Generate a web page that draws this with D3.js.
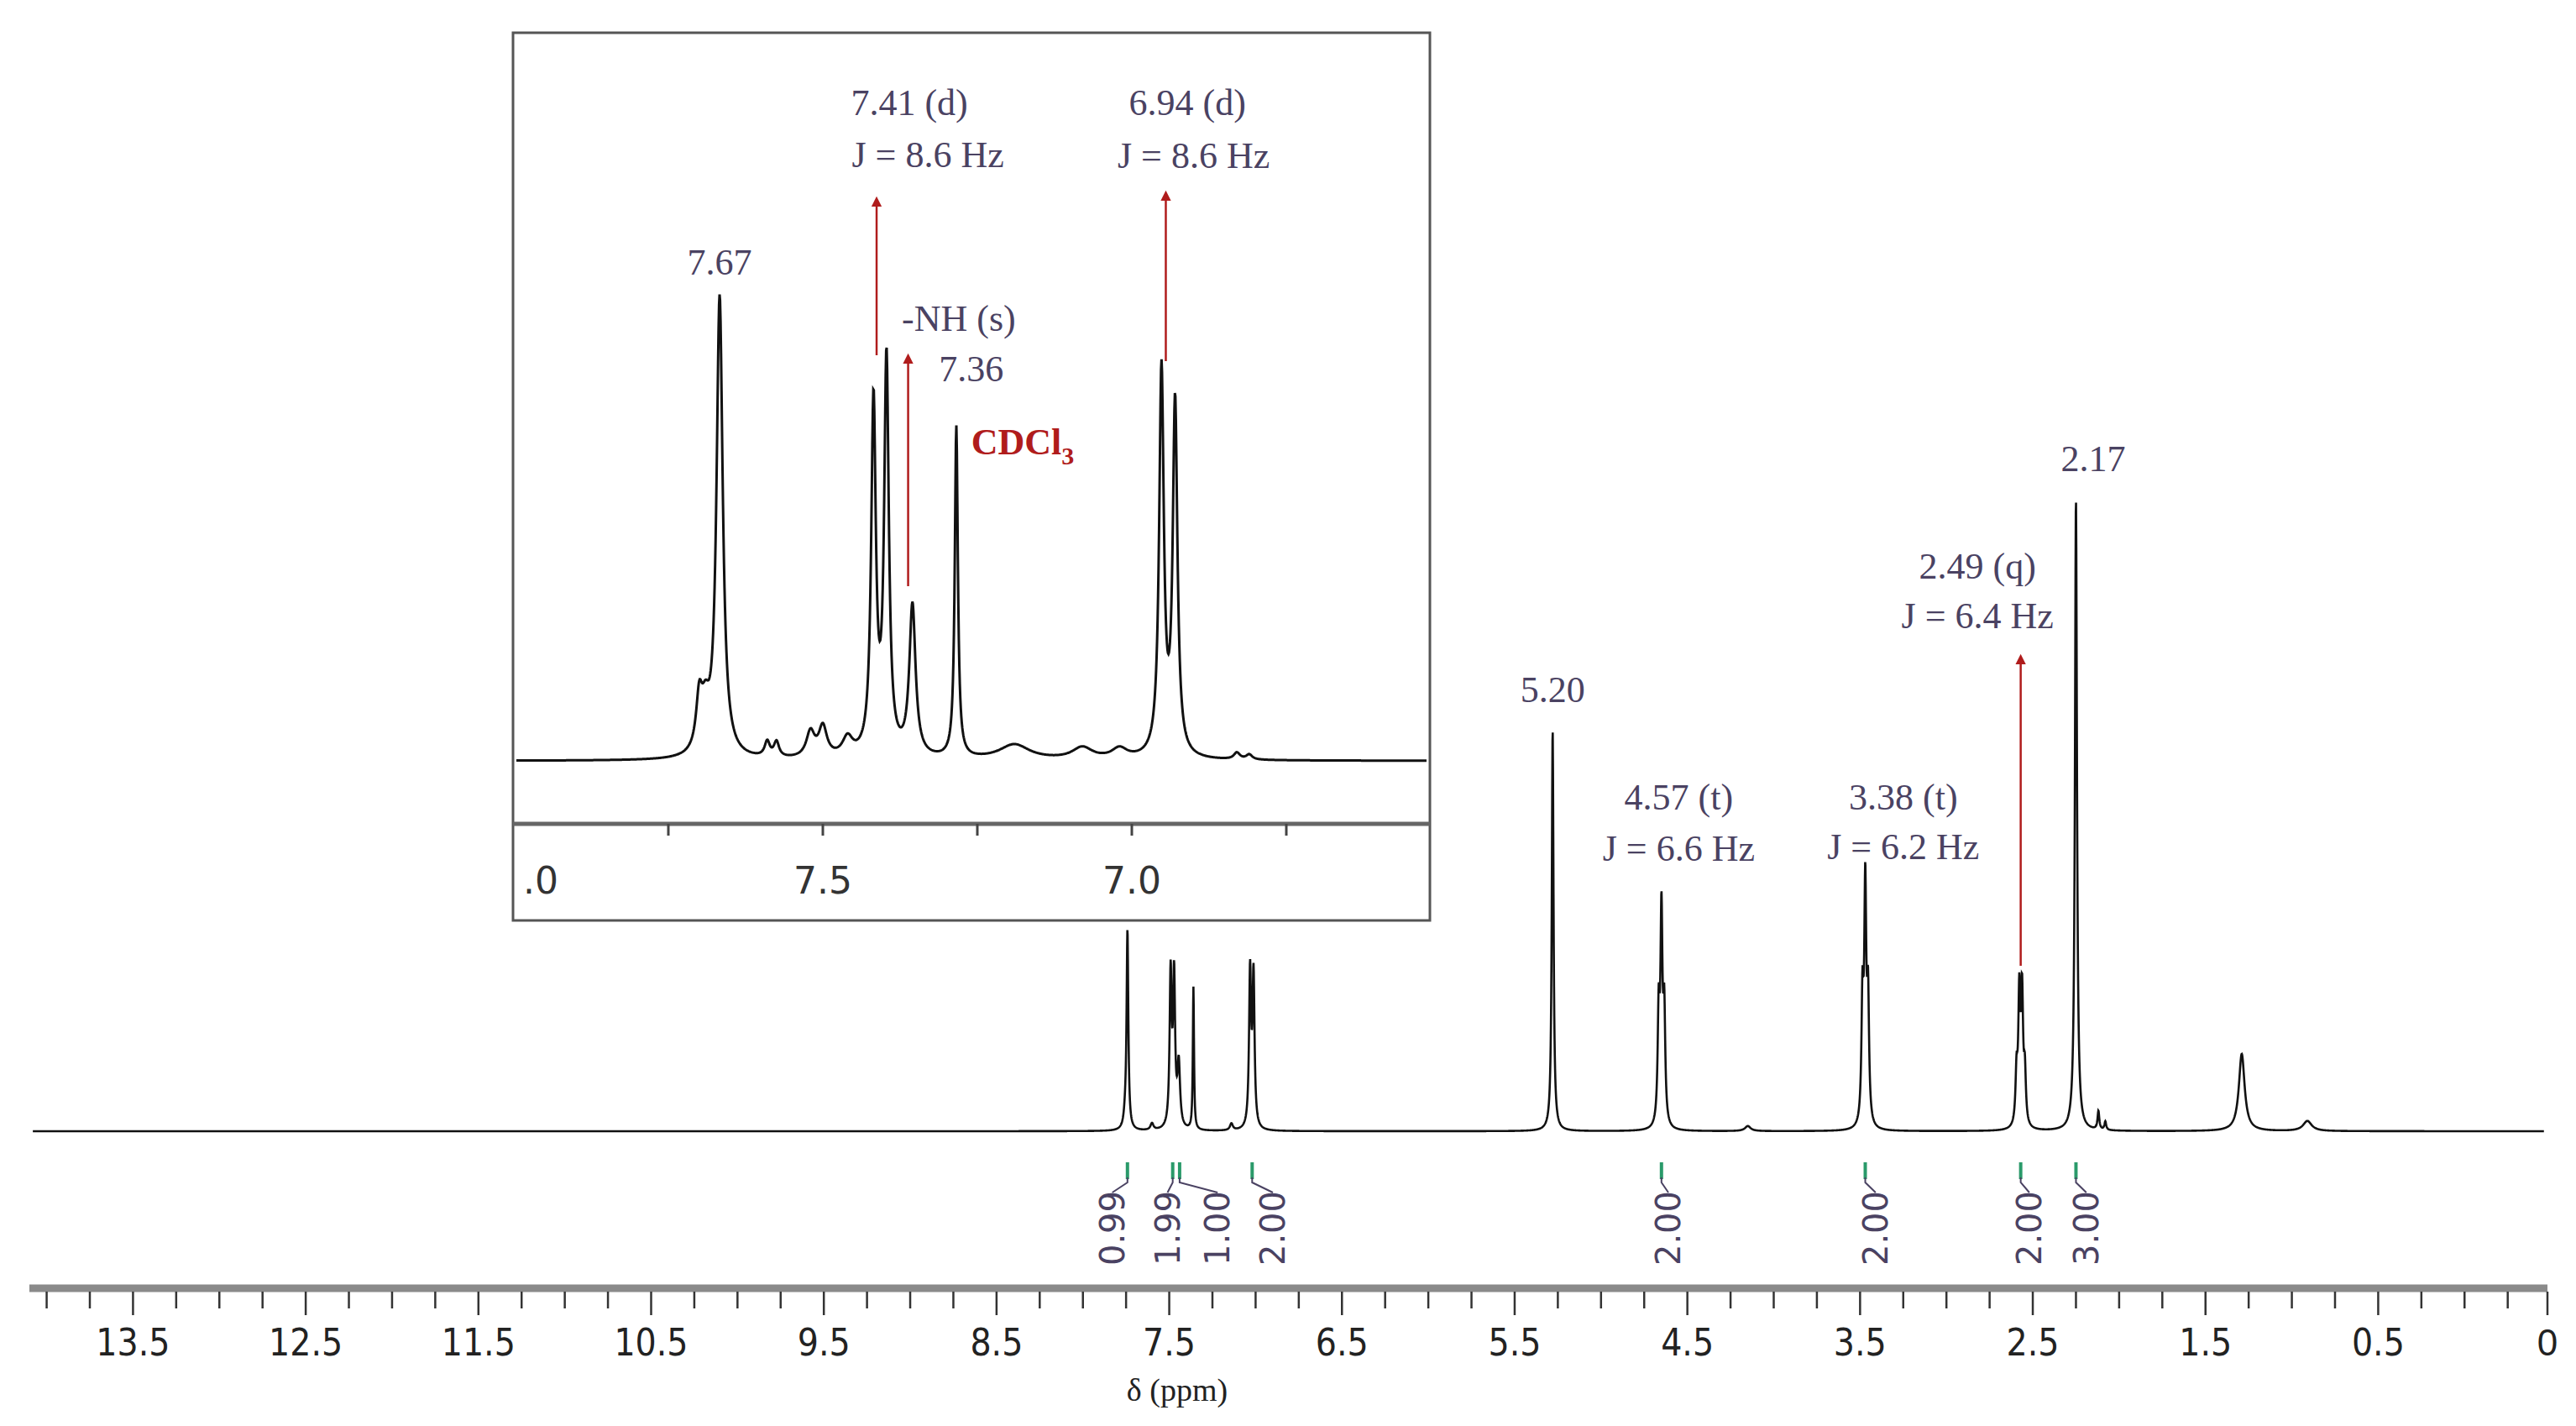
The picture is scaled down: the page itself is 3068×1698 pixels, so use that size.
<!DOCTYPE html>
<html><head><meta charset="utf-8">
<script src="https://cdn.jsdelivr.net/npm/d3@7"></script>
<style>body{margin:0;background:#fff}svg{display:block}</style>
</head><body>
<svg id="c" width="3068" height="1698"></svg>
<script>
// ---- data ----
// main spectrum peaks: [ppm, height (signal units), half-width ppm]
const mainPeaks = [
  [7.742,236,0.006],[7.755,12,0.01],
  [7.492,182,0.007],[7.472,176,0.007],[7.445,75,0.009],[7.36,170,0.004],
  [7.032,185,0.007],[7.012,180,0.007],
  [5.28,478,0.006],
  [4.666,130,0.007],[4.650,245,0.007],[4.634,130,0.007],
  [3.486,145,0.007],[3.470,275,0.007],[3.454,145,0.007],
  [2.594,60,0.007],[2.578,152,0.007],[2.562,152,0.007],[2.546,60,0.007],
  [2.25,752,0.007],[2.12,22,0.006],[2.08,10,0.006],
  [1.29,92,0.02],[0.91,12,0.03],[4.15,6,0.02],[7.14,8,0.01],[7.6,8,0.01]
];
// inset peaks (inset ppm scale)
const insetPeaks = [
  [7.667,548,0.006],[7.70,60,0.006],[7.69,45,0.008],
  [7.59,18,0.005],[7.575,18,0.005],[7.52,30,0.008],[7.50,36,0.008],[7.46,22,0.01],
  [7.418,420,0.0045],[7.397,470,0.0045],[7.355,180,0.006],[7.284,395,0.003],
  [6.952,460,0.0045],[6.930,420,0.0045],
  [7.19,18,0.03],[7.08,14,0.02],[7.02,12,0.015],[6.83,8,0.006],[6.81,6,0.006]
];
const mainTicks = [13.5,12.5,11.5,10.5,9.5,8.5,7.5,6.5,5.5,4.5,3.5,2.5,1.5,0.5];
const mainEndLabel = "0";
const insetTicks = [8.0,7.5,7.0];
const insetTickLabels = [".0","7.5","7.0"];
const integrals = [
  {ppm:7.742, txt:"0.99", at:7.83},
  {ppm:7.48, txt:"1.99", at:7.51},
  {ppm:7.44, txt:"1.00", at:7.22},
  {ppm:7.02, txt:"2.00", at:6.90},
  {ppm:4.65, txt:"2.00", at:4.61},
  {ppm:3.47, txt:"2.00", at:3.41},
  {ppm:2.57, txt:"2.00", at:2.52},
  {ppm:2.25, txt:"3.00", at:2.19}
];
const mainLabels = [
  {ppm:5.28, y:826, t:"5.20"},
  {ppm:4.55, y:954, t:"4.57 (t)"},
  {ppm:4.55, y:1015, t:"J = 6.6 Hz"},
  {ppm:3.25, y:954, t:"3.38 (t)"},
  {ppm:3.25, y:1013, t:"J = 6.2 Hz"},
  {ppm:2.82, y:679, t:"2.49 (q)"},
  {ppm:2.82, y:738, t:"J = 6.4 Hz"},
  {ppm:2.15, y:551, t:"2.17"}
];
const insetLabels = [
  {ppm:7.36, y:127, t:"7.41 (d)"},
  {ppm:7.33, y:189, t:"J = 8.6 Hz"},
  {ppm:6.91, y:127, t:"6.94 (d)"},
  {ppm:6.90, y:190, t:"J = 8.6 Hz"},
  {ppm:7.667, y:317, t:"7.67"},
  {ppm:7.28, y:384, t:"-NH (s)"},
  {ppm:7.26, y:444, t:"7.36"}
];

// ---- drawing ----
const svg = d3.select("#c");
const ink = "#4a4262", red = "#b01c1c";
const serif = "'Liberation Serif','DejaVu Serif',serif";
const lor = (pk, d) => pk.reduce((s,[c,h,w]) => s + h*w*w/((d-c)*(d-c)+w*w), 0);

// main
const x = d3.scaleLinear().domain([14.1,-0.48]).range([35,3034]);
const y = d3.scaleLinear().domain([0,800]).range([1347,547]);
const mainData = d3.range(14.08,-0.46,-0.0015).map(d=>[d,lor(mainPeaks,d)]);
svg.append("path").attr("d",d3.line().x(d=>x(d[0])).y(d=>y(d[1]))(mainData))
  .attr("fill","none").attr("stroke","#111").attr("stroke-width",2.6);

// axis
const axG = svg.append("g").attr("transform","translate(0,1534)");
axG.append("line").attr("x1",x(14.1)).attr("x2",x(-0.48)).attr("stroke","#8a8a8a").attr("stroke-width",9);
axG.selectAll("line.t").data(d3.range(14.0,-0.5,-0.25)).join("line").attr("class","t")
  .attr("x1",d=>x(d)).attr("x2",d=>x(d)).attr("y1",4).attr("y2",d=>Math.abs((d*2)%2)===1?32:24)
  .attr("stroke","#333").attr("stroke-width",2.5);
axG.append("line").attr("x1",x(-0.48)).attr("x2",x(-0.48)).attr("y1",4).attr("y2",32).attr("stroke","#333").attr("stroke-width",2.5);
axG.selectAll("text").data(mainTicks).join("text").attr("x",d=>x(d)).attr("y",80)
  .attr("text-anchor","middle").attr("font-family","'Liberation Sans Narrow','DejaVu Sans Condensed',sans-serif")
  .attr("font-size",44).attr("fill","#222").text(d=>d);
axG.append("text").attr("x",x(-0.48)).attr("y",80).attr("text-anchor","middle")
  .attr("font-family","'Liberation Sans Narrow',sans-serif").attr("font-size",44).attr("fill","#222").text(mainEndLabel);
svg.append("text").attr("x",1402).attr("y",1668).attr("text-anchor","middle")
  .attr("font-family",serif).attr("font-size",38).attr("fill","#222").text("δ (ppm)");

// integrals
const ig = svg.append("g");
integrals.forEach(d=>{
  ig.append("line").attr("x1",x(d.ppm)).attr("x2",x(d.ppm)).attr("y1",1384).attr("y2",1404)
    .attr("stroke","#2a9a6a").attr("stroke-width",4);
  ig.append("path").attr("d",`M${x(d.ppm)},1402 L${x(d.ppm)},1408 L${x(d.at)},1420`)
    .attr("fill","none").attr("stroke",ink).attr("stroke-width",2);
  ig.append("text").attr("transform",`translate(${x(d.at)+14},1418) rotate(-90)`)
    .attr("text-anchor","end").attr("font-family","'DejaVu Sans',sans-serif").attr("font-size",40)
    .attr("fill",ink).text(d.txt);
});

// main labels
svg.selectAll("text.ml").data(mainLabels).join("text").attr("class","ml")
  .attr("x",d=>x(d.ppm)).attr("y",d=>d.y).attr("text-anchor","middle").attr("dominant-baseline","middle")
  .attr("font-family",serif).attr("font-size",44).attr("fill",ink).text(d=>d.t);

// arrows
svg.append("defs").append("marker").attr("id","ah").attr("viewBox","0 0 10 10").attr("refX",5).attr("refY",5)
  .attr("markerWidth",5).attr("markerHeight",5).attr("orient","auto")
  .append("path").attr("d","M0,0 L10,5 L0,10 z").attr("fill",red);
const arrow=(x1,y1,y2)=>svg.append("line").attr("x1",x1).attr("x2",x1).attr("y1",y1).attr("y2",y2)
  .attr("stroke",red).attr("stroke-width",2.5).attr("marker-end","url(#ah)");
arrow(x(2.57),1150,785);

// inset
const bx0=611,bx1=1703,by0=39,by1=1096,iaxis=981;
svg.append("rect").attr("x",bx0).attr("y",by0).attr("width",bx1-bx0).attr("height",by1-by0)
  .attr("fill","#fff").attr("stroke","#555").attr("stroke-width",3);
const xi = d3.scaleLinear().domain([7.5,7.0]).range([980,1348]);
const yi = d3.scaleLinear().domain([0,600]).range([906,306]);
const insetData = d3.range(xi.invert(bx0+4),xi.invert(bx1-4),-0.0008).map(d=>[d,lor(insetPeaks,d)]);
svg.append("path").attr("d",d3.line().x(d=>xi(d[0])).y(d=>yi(d[1]))(insetData))
  .attr("fill","none").attr("stroke","#111").attr("stroke-width",3);
svg.append("line").attr("x1",bx0).attr("x2",bx1).attr("y1",iaxis).attr("y2",iaxis).attr("stroke","#666").attr("stroke-width",5);
svg.selectAll("line.it").data(d3.range(7.75,6.6,-0.25)).join("line").attr("class","it")
  .attr("x1",d=>xi(d)).attr("x2",d=>xi(d)).attr("y1",iaxis).attr("y2",iaxis+14).attr("stroke","#444").attr("stroke-width",3);
svg.selectAll("text.itl").data(insetTicks).join("text").attr("class","itl")
  .attr("x",(d,i)=>i===0?644:xi(d)).attr("y",1064).attr("text-anchor","middle")
  .attr("font-family","'DejaVu Sans',sans-serif").attr("font-size",44).attr("fill","#333")
  .text((d,i)=>insetTickLabels[i]);
svg.selectAll("text.il").data(insetLabels).join("text").attr("class","il")
  .attr("x",d=>xi(d.ppm)).attr("y",d=>d.y).attr("text-anchor","middle").attr("dominant-baseline","middle")
  .attr("font-family",serif).attr("font-size",44).attr("fill",ink).text(d=>d.t);
const cd = svg.append("text").attr("x",xi(7.26)).attr("y",541).attr("font-family",serif)
  .attr("font-size",44).attr("font-weight","bold").attr("fill",red);
cd.append("tspan").text("CDCl");
cd.append("tspan").attr("font-size",30).attr("dy",12).text("3");
arrow(xi(7.413),423,240);
arrow(xi(6.945),430,233);
arrow(xi(7.362),698,427);
</script>
</body></html>
